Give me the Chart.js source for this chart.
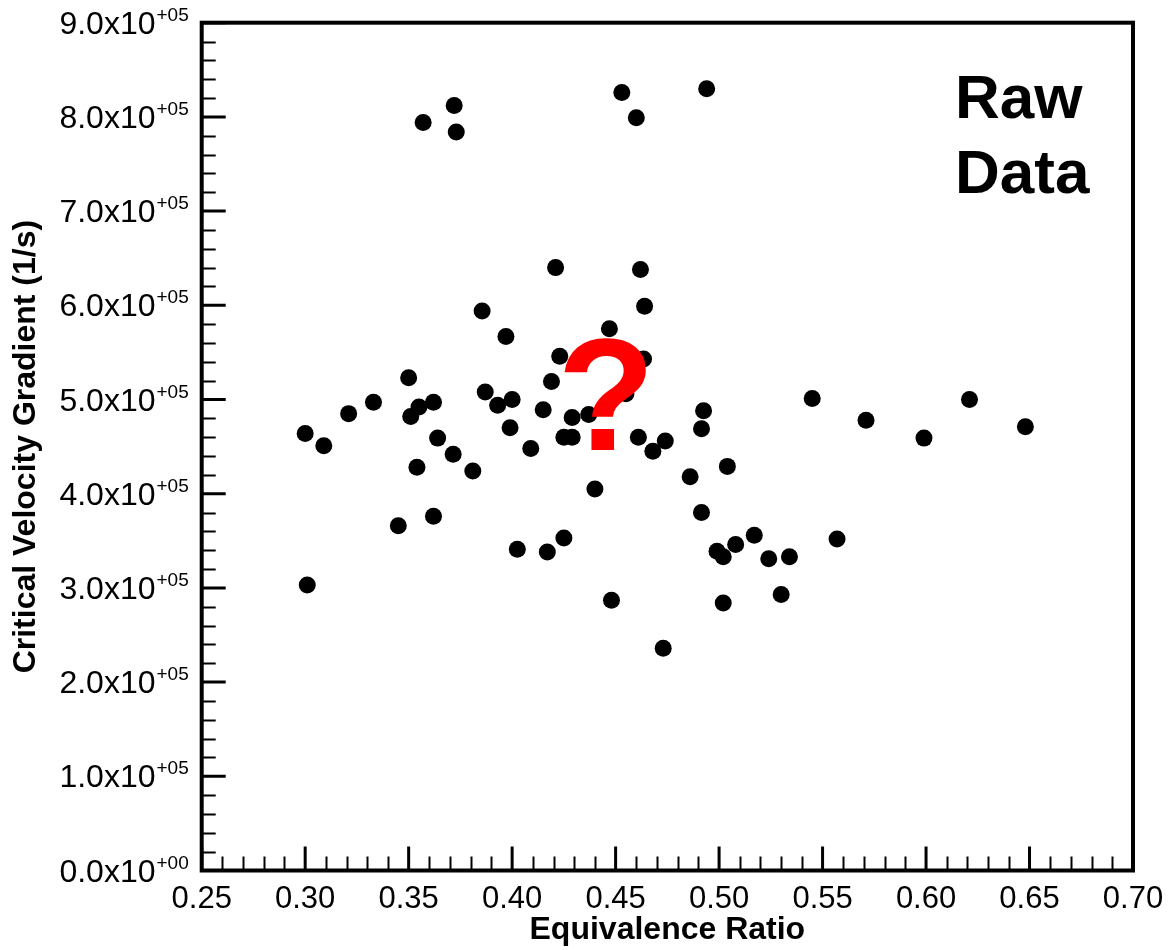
<!DOCTYPE html>
<html>
<head>
<meta charset="utf-8">
<title>Raw Data</title>
<script src="https://cdn.jsdelivr.net/npm/chart.js@4.4.1/dist/chart.umd.min.js"></script>
<style>
  body { margin: 0; background: #fff; }
  #wrap { width: 1169px; height: 950px; position: relative; }
</style>
</head>
<body>
<div id="wrap"><canvas id="rawChart"></canvas></div>
<script>
// equivalence ratio of each measurement
const phi = [
  0.300, 0.309, 0.301, 0.321, 0.333, 0.350, 0.355, 0.362, 0.351, 0.364,
  0.3715, 0.354, 0.345, 0.362, 0.357, 0.372, 0.373, 0.381, 0.3855, 0.387,
  0.393, 0.397, 0.400, 0.399, 0.409, 0.4025, 0.415, 0.419, 0.421, 0.423,
  0.425, 0.429, 0.429, 0.437, 0.417, 0.425, 0.440, 0.447, 0.448, 0.453,
  0.455, 0.460, 0.462, 0.464, 0.4635, 0.461, 0.474, 0.468, 0.473, 0.486,
  0.4915, 0.4925, 0.4915, 0.494, 0.504, 0.499, 0.502, 0.508, 0.502, 0.517,
  0.524, 0.534, 0.530, 0.545, 0.557, 0.571, 0.599, 0.621, 0.648
];
// critical velocity gradient (1/s)
const gradient = [
  4.64e5, 4.51e5, 3.03e5, 4.85e5, 4.97e5, 5.23e5, 4.92e5, 4.97e5, 4.82e5, 4.59e5,
  4.42e5, 4.28e5, 3.66e5, 3.76e5, 7.94e5, 8.12e5, 7.84e5, 4.24e5, 5.94e5, 5.08e5,
  4.94e5, 5.67e5, 5.00e5, 4.70e5, 4.48e5, 3.41e5, 4.89e5, 5.19e5, 6.40e5, 5.46e5,
  4.60e5, 4.60e5, 4.81e5, 4.84e5, 3.38e5, 3.53e5, 4.05e5, 5.75e5, 2.87e5, 8.26e5,
  5.06e5, 7.99e5, 6.38e5, 5.99e5, 5.43e5, 4.60e5, 4.56e5, 4.45e5, 2.36e5, 4.18e5,
  3.80e5, 4.88e5, 4.69e5, 8.30e5, 4.29e5, 3.39e5, 3.33e5, 3.46e5, 2.84e5, 3.56e5,
  3.31e5, 3.33e5, 2.93e5, 5.01e5, 3.52e5, 4.78e5, 4.59e5, 5.00e5, 4.71e5
];

const xTicks = [0.25, 0.30, 0.35, 0.40, 0.45, 0.50, 0.55, 0.60, 0.65, 0.70];
const yTicks = [0, 1e5, 2e5, 3e5, 4e5, 5e5, 6e5, 7e5, 8e5, 9e5];

const FONT = "'Liberation Sans', Arial, Helvetica, sans-serif";
Chart.defaults.font.family = FONT;
Chart.defaults.color = '#000';

// y labels in Tecplot style (mantissa + superscript exponent), inward ticks, frame, notes
const tecplotAxes = {
  id: 'tecplotAxes',
  afterDatasetsDraw(chart) {
    const ctx = chart.ctx;
    const xs = chart.scales.x, ys = chart.scales.y;
    const a = chart.chartArea;
    ctx.save();

    // red question mark sits on top of the points
    ctx.fillStyle = '#ff0000';
    ctx.font = 'bold 160px ' + FONT;
    ctx.textAlign = 'center';
    ctx.textBaseline = 'alphabetic';
    ctx.fillText('?', 606, 450);

    // "Raw Data" note
    ctx.fillStyle = '#000';
    ctx.font = 'bold 62px ' + FONT;
    ctx.textAlign = 'left';
    ctx.fillText('Raw', 955, 118);
    ctx.fillText('Data', 955, 193);

    ctx.strokeStyle = '#000';
    ctx.lineCap = 'butt';

    // minor ticks
    ctx.lineWidth = 2;
    ctx.beginPath();
    for (let i = 0; i <= 45; i++) {
      if (i % 5 === 0) continue;
      const py = Math.round(ys.getPixelForValue(i * 2e4)) + 0.5;
      ctx.moveTo(a.left, py); ctx.lineTo(a.left + 14, py);
    }
    for (let i = 25; i <= 70; i++) {
      if (i % 5 === 0) continue;
      const px = Math.round(xs.getPixelForValue(i / 100)) + 0.5;
      ctx.moveTo(px, a.bottom); ctx.lineTo(px, a.bottom - 14);
    }
    ctx.stroke();

    // major ticks
    ctx.lineWidth = 3;
    ctx.beginPath();
    yTicks.forEach(v => {
      const py = ys.getPixelForValue(v);
      ctx.moveTo(a.left, py); ctx.lineTo(a.left + 24, py);
    });
    xTicks.forEach(v => {
      const px = xs.getPixelForValue(v);
      ctx.moveTo(px, a.bottom); ctx.lineTo(px, a.bottom - 24);
    });
    ctx.stroke();

    // frame
    ctx.lineWidth = 4;
    ctx.strokeRect(a.left, a.top, a.right - a.left, a.bottom - a.top);

    // y tick labels
    const rightEdge = a.left - 13;
    yTicks.forEach(v => {
      const py = ys.getPixelForValue(v);
      const mant = (v / 1e5).toFixed(1) + 'x10';
      const sup = v === 0 ? '+00' : '+05';
      ctx.font = '19px ' + FONT;
      const supW = ctx.measureText(sup).width;
      ctx.textAlign = 'left';
      ctx.fillText(sup, rightEdge - supW, py - 2);
      ctx.font = '32px ' + FONT;
      ctx.textAlign = 'right';
      ctx.fillText(mant, rightEdge - supW - 1, py + 11);
    });

    ctx.restore();
  }
};

const ctx = document.getElementById('rawChart').getContext('2d');
new Chart(ctx, {
  type: 'scatter',
  data: {
    datasets: [{
      label: 'Raw Data',
      data: phi.map((x, i) => ({ x: x, y: gradient[i] })),
      backgroundColor: '#000',
      borderColor: '#000',
      borderWidth: 0,
      pointRadius: 8.5,
      pointHoverRadius: 8.5
    }]
  },
  options: {
    responsive: true,
    maintainAspectRatio: false,
    animation: false,
    layout: { padding: { top: 22.7, right: 36, left: 0, bottom: 0 } },
    plugins: {
      legend: { display: false },
      tooltip: { enabled: false }
    },
    scales: {
      x: {
        type: 'linear',
        min: 0.25,
        max: 0.70,
        afterBuildTicks: s => { s.ticks = xTicks.map(v => ({ value: v })); },
        afterFit: s => { s.height = 79.5; s.paddingLeft = 0; s.paddingRight = 0; },
        grid: { display: false, drawTicks: false },
        border: { display: false },
        ticks: {
          autoSkip: false,
          maxRotation: 0,
          padding: 10,
          font: { size: 31 },
          color: '#000',
          callback: v => v.toFixed(2)
        },
        title: {
          display: true,
          text: 'Equivalence Ratio',
          font: { size: 32, weight: 'bold' },
          color: '#000',
          padding: { top: 0, bottom: 1 }
        }
      },
      y: {
        type: 'linear',
        min: 0,
        max: 9e5,
        afterBuildTicks: s => { s.ticks = yTicks.map(v => ({ value: v })); },
        afterFit: s => { s.width = 201.7; s.paddingTop = 0; s.paddingBottom = 0; },
        grid: { display: false, drawTicks: false },
        border: { display: false },
        ticks: { display: false },
        title: {
          display: true,
          text: 'Critical Velocity Gradient (1/s)',
          font: { size: 32, weight: 'bold' },
          color: '#000',
          padding: { top: 7, bottom: 0 }
        }
      }
    }
  },
  plugins: [tecplotAxes]
});
</script>
</body>
</html>
